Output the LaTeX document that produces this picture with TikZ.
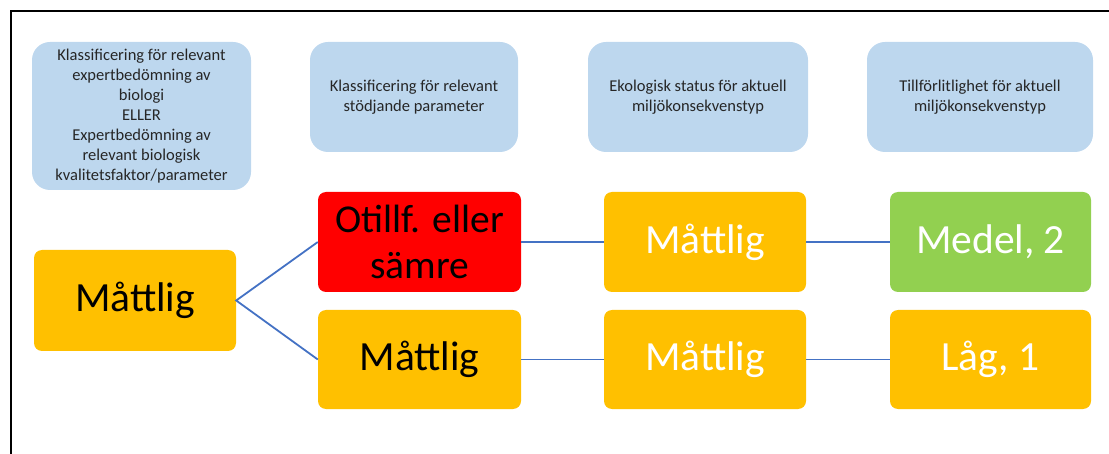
\documentclass[tikz,border=0pt]{standalone}
\usepackage{fontspec}
\setmainfont{Carlito}
\definecolor{hdrblue}{HTML}{BDD7EE}
\definecolor{boxorange}{HTML}{FFC000}
\definecolor{boxred}{HTML}{FF0000}
\definecolor{boxgreen}{HTML}{92D050}
\definecolor{linkblue}{HTML}{4472C4}
\begin{document}
\begin{tikzpicture}[x=1pt,y=-1pt,
  hdr/.style={fill=hdrblue, rounded corners=18pt, inner sep=0pt, align=center,
    font=\fontsize{16.5}{20}\selectfont, text=black!85},
  big/.style={rounded corners=8pt, inner sep=0pt, align=center,
    font=\fontsize{41.5}{46}\selectfont, minimum height=100pt},
  link/.style={draw=linkblue, line width=1.8pt}]
\useasboundingbox (0,0) rectangle (1109,454);
% frame
\coordinate (fbl) at (11,454);
\coordinate (ftl) at (11,11);
\coordinate (ftr) at (1109,11);
\draw[line width=2pt] (fbl) -- (ftl) -- (ftr);
% header boxes
\node[hdr, minimum width=219pt, minimum height=148pt] (h1) at (141.5,116)
  {Klassificering för relevant\\ expertbedömning av\\ biologi\\ ELLER\\ Expertbedömning av\\ relevant biologisk\\ kvalitetsfaktor/parameter};
\node[hdr, minimum width=208pt, minimum height=110pt] (h2) at (414,97)
  {Klassificering för relevant\\ stödjande parameter};
\node[hdr, minimum width=220pt, minimum height=110pt] (h3) at (698,97)
  {Ekologisk status för aktuell\\ miljökonsekvenstyp};
\node[hdr, minimum width=226pt, minimum height=110pt] (h4) at (980,97)
  {Tillförlitlighet för aktuell\\ miljökonsekvenstyp};
% main boxes
\node[big, fill=boxorange, text=black, minimum width=202pt, minimum height=101pt] (m0) at (135,300.5) {Måttlig};
\node[big, fill=boxred, text=black, minimum width=203pt, font=\fontsize{39.5}{46}\selectfont] (r1) at (419.5,242) {Otillf. eller\\ sämre};
\node[big, fill=boxorange, text=black, minimum width=203pt, minimum height=99pt] (m1) at (419.5,359.5) {Måttlig};
\node[big, fill=boxorange, text=white, minimum width=202pt] (c1) at (705,242) {Måttlig};
\node[big, fill=boxorange, text=white, minimum width=202pt, minimum height=99pt] (c2) at (705,359.5) {Måttlig};
\node[big, fill=boxgreen, text=white, minimum width=201pt] (g1) at (990.5,242) {Medel, 2};
\node[big, fill=boxorange, text=white, minimum width=201pt, minimum height=99pt] (l1) at (990.5,359.5) {Låg, 1};
% connectors
\draw[link] (r1.west) -- (m0.east) -- (m1.west);
\draw[link] (r1.east) -- (c1.west);
\draw[link] (c1.east) -- (g1.west);
\draw[link] (m1.east) -- (c2.west);
\draw[link] (c2.east) -- (l1.west);
\end{tikzpicture}
\end{document}
